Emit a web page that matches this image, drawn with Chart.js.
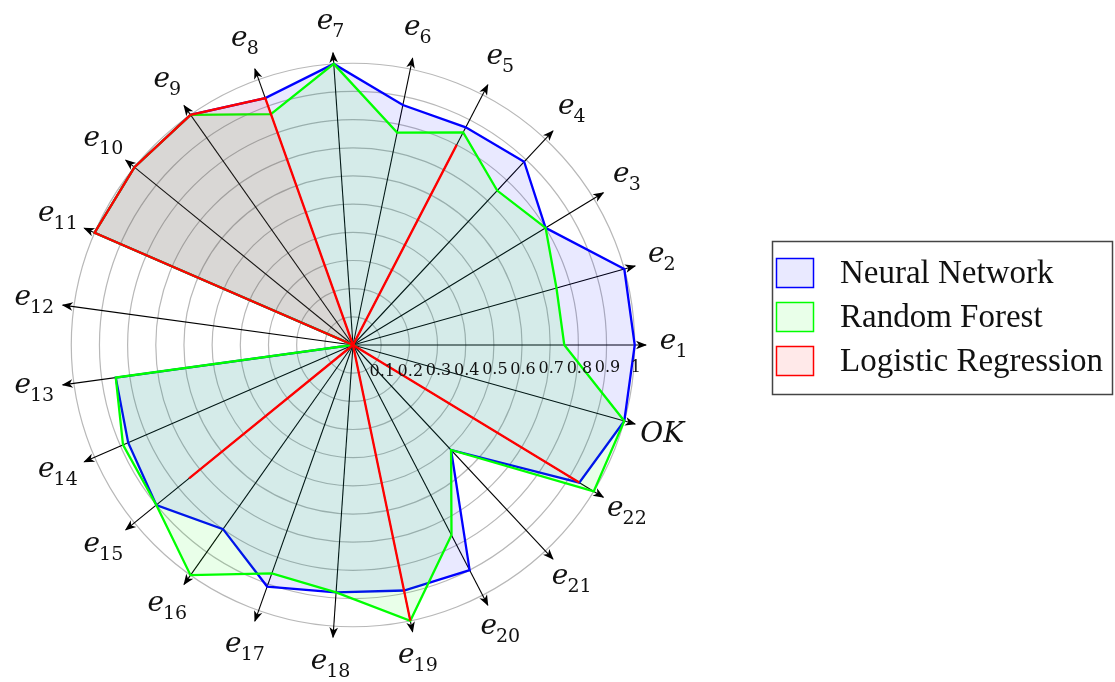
<!DOCTYPE html>
<html>
<head>
<meta charset="utf-8">
<title>Radar</title>
<script src="https://cdn.jsdelivr.net/npm/chart.js@4.4.1/dist/chart.umd.min.js"></script>
<style>
  html, body { margin: 0; padding: 0; background: #fff; }
  #wrap { width: 1115px; height: 682px; position: relative; }
</style>
</head>
<body>
<div id="wrap"><canvas id="radar"></canvas></div>
<script>
// axes, read counter-clockwise starting from the right, like the picture
const axisNames = ['e1','e2','e3','e4','e5','e6','e7','e8','e9','e10','e11','e12',
                   'e13','e14','e15','e16','e17','e18','e19','e20','e21','e22','OK'];

const nnScores = [1.0, 1.0, 0.8, 0.89, 0.87, 0.87, 1.0, 0.93, 1.0, 1.0, 1.0, 0,
                  0.85, 0.87, 0.9, 0.8, 0.91, 0.88, 0.89, 0.9, 0.51, 0.94, 1.0];
const rfScores = [0.75, 0.75, 0.8, 0.75, 0.85, 0.77, 1.0, 0.87, 1.0, 1.0, 1.0, 0,
                  0.85, 0.89, 0.9, 1.0, 0.86, 0.88, 1.0, 0.76, 0.51, 1.0, 1.0];
const lrScores = [0, 0, 0, 0, 0.8, 0, 0, 0.93, 1.0, 1.0, 1.0, 0,
                  0, 0, 0.75, 0, 0, 0, 1.0, 0, 0, 0.94, 0];

const seriesNames = ['Neural Network', 'Random Forest', 'Logistic Regression'];
const lineColors = ['#0000ff', '#00ff00', '#ff0000'];
const fillColors = ['rgba(0,0,255,0.085)', 'rgba(0,255,0,0.085)', 'rgba(255,0,0,0.085)'];

const tickValues = [0.1, 0.2, 0.3, 0.4, 0.5, 0.6, 0.7, 0.8, 0.9, 1];
const tickLabels = ['0.1','0.2','0.3','0.4','0.5','0.6','0.7','0.8','0.9','1'];

const AXIS_END = 1.04;   // arrows stick out a bit past 1
const LABEL_AT = 1.14;

// chart.js walks clockwise, the picture walks counter-clockwise
function clockwise(arr) {
  return [arr[0]].concat(arr.slice(1).reverse());
}

const serif = "'DejaVu Serif', 'Liberation Serif', serif";
const legendFont = "33px 'Liberation Serif', serif";

// arrow heads on the axes
const arrowPlugin = {
  id: 'arrows',
  beforeDatasetsDraw(chart) {
    const s = chart.scales.r, ctx = chart.ctx;
    const d = s.getDistanceFromCenterForValue(AXIS_END);
    ctx.save();
    ctx.fillStyle = '#000';
    for (let i = 0; i < chart.data.labels.length; i++) {
      const p = s.getPointPosition(i, d);
      ctx.save();
      ctx.translate(p.x, p.y);
      ctx.rotate(p.angle);
      ctx.beginPath();
      ctx.moveTo(1, 0);
      ctx.lineTo(-10, -4.3);
      ctx.lineTo(-7, 0);
      ctx.lineTo(-10, 4.3);
      ctx.closePath();
      ctx.fill();
      ctx.restore();
    }
    ctx.restore();
  }
};

// e_n labels with subscripts + tick numbers under the e1 axis
const labelPlugin = {
  id: 'axisText',
  afterDatasetsDraw(chart) {
    const s = chart.scales.r, ctx = chart.ctx;
    ctx.save();
    ctx.fillStyle = '#111';

    // tick numbers
    ctx.font = '16px ' + serif;
    ctx.textAlign = 'center';
    ctx.textBaseline = 'middle';
    tickValues.forEach((v, k) => {
      const p = s.getPointPosition(0, s.getDistanceFromCenterForValue(v));
      ctx.fillText(tickLabels[k], p.x + 1, p.y + 27.5 - 5 * v);
    });

    // axis names
    const baseFont = 'italic 28px ' + serif;
    const subFont = '19px ' + serif;
    const dist = s.getDistanceFromCenterForValue(LABEL_AT);
    chart.data.labels.forEach((name, i) => {
      const p = s.getPointPosition(i, dist);
      let base = name, sub = '';
      if (name[0] === 'e') { base = 'e'; sub = name.slice(1); }
      ctx.font = baseFont;
      const wb = ctx.measureText(base).width;
      ctx.font = subFont;
      const ws = sub ? ctx.measureText(sub).width : 0;
      const x = p.x - (wb + ws) / 2;
      const y = p.y + (sub ? 4 : 10);
      ctx.textAlign = 'left';
      ctx.textBaseline = 'alphabetic';
      ctx.font = baseFont;
      ctx.fillText(base, x, y);
      if (sub) {
        ctx.font = subFont;
        ctx.fillText(sub, x + wb - 1, y + 8);
      }
    });
    ctx.restore();
  }
};

// boxed legend on the right
const legendPlugin = {
  id: 'boxLegend',
  afterDraw(chart) {
    const ctx = chart.ctx;
    ctx.save();
    ctx.strokeStyle = '#444';
    ctx.lineWidth = 1.5;
    ctx.strokeRect(772.5, 241.5, 340, 153);
    ctx.font = legendFont;
    ctx.textAlign = 'left';
    ctx.textBaseline = 'middle';
    seriesNames.forEach((name, i) => {
      const ds = chart.data.datasets[i];
      const y = 258.5 + 44 * i;
      ctx.fillStyle = ds.backgroundColor;
      ctx.fillRect(776.5, y, 37, 29);
      ctx.strokeStyle = ds.borderColor;
      ctx.lineWidth = 1.5;
      ctx.strokeRect(776.5, y, 37, 29);
      ctx.fillStyle = '#111';
      ctx.fillText(name, 840, y + 16);
    });
    ctx.restore();
  }
};

const seriesData = [nnScores, rfScores, lrScores];

new Chart(document.getElementById('radar'), {
  type: 'radar',
  data: {
    labels: clockwise(axisNames),
    datasets: seriesNames.map((name, i) => ({
      label: name,
      data: clockwise(seriesData[i]),
      borderColor: lineColors[i],
      backgroundColor: fillColors[i],
      borderWidth: 2.3,
      pointRadius: 0,
      fill: true,
      order: 3 - i
    }))
  },
  options: {
    responsive: true,
    maintainAspectRatio: false,
    animation: false,
    layout: { padding: { left: 59, right: 468, top: 52, bottom: 43 } },
    plugins: {
      legend: { display: false },
      tooltip: { enabled: false }
    },
    scales: {
      r: {
        min: 0,
        max: AXIS_END,
        startAngle: 90,
        ticks: { display: false, stepSize: 0.1 },
        grid: {
          circular: true,
          lineWidth: 1.2,
          color: ctx => (ctx.tick && ctx.tick.value > 1.001) ? 'rgba(0,0,0,0)' : '#b8b8b8'
        },
        angleLines: { display: true, color: '#000', lineWidth: 1.1 },
        pointLabels: { display: false }
      }
    }
  },
  plugins: [arrowPlugin, labelPlugin, legendPlugin]
});
</script>
</body>
</html>
